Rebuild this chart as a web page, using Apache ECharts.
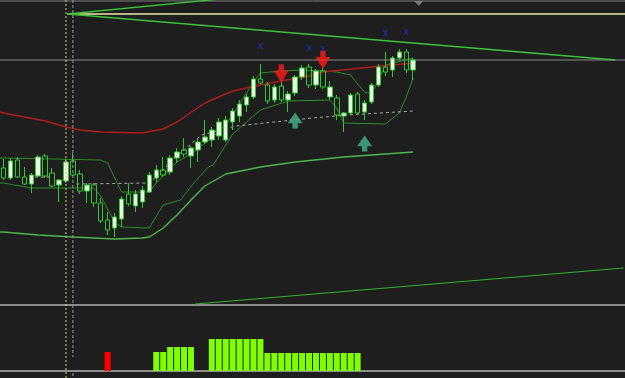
<!DOCTYPE html>
<html><head><meta charset="utf-8">
<script src="https://cdn.jsdelivr.net/npm/echarts/dist/echarts.min.js"></script>
<style>html,body{margin:0;padding:0;background:#1e1e1e;}#c{width:625px;height:378px;}</style>
</head><body><div id="c"></div><script>
// bar slots (60 bars + empty future slots on the right)
const barIndex = Array.from({length: 90}, (_, i) => String(i));

// OHLC (price units)
const candleOpen  = [152,142,160,143,136,144,164,147,135,139,159,146,129,135,117,100,92,101,126,114,118,128,142,150,148,162,170,164,170,178,180,184,180,198,204,215,223,241,235,220,234,220,227,243,253,235,249,223,222,204,207,226,208,218,235,253,250,262,268,250];
const candleClose = [142,159,143,136,145,163,144,134,140,158,145,129,135,117,99,90,103,121,116,126,130,145,150,145,162,168,166,172,178,183,190,198,200,209,216,223,241,237,219,233,220,226,243,252,235,249,233,233,205,207,225,207,217,235,253,248,262,268,250,260];
const candleLow   = [140,140,142,135,127,143,142,133,118,137,144,126,117,113,97,85,83,93,114,108,112,127,138,143,145,157,163,152,158,176,173,180,178,190,198,208,221,236,216,217,218,208,224,240,232,231,231,220,200,188,205,205,200,216,233,244,243,260,247,240];
const candleHigh  = [161,162,163,153,147,165,166,152,141,161,167,150,137,137,122,108,107,124,137,130,134,148,155,163,165,172,182,174,181,200,193,202,204,212,220,226,244,256,238,236,238,229,245,255,256,251,252,239,225,208,227,228,220,237,256,268,264,271,271,262];

// indicator lines: [bar index, value]
const redLine   = [[-1,209],[0,207],[3,203],[6,199],[9,193],[11,190],[14,188],[20,187],[23,191],[25,198],[29,217],[33,229],[37,235],[40,239],[44,244],[46,248],[53,253],[59,257]];
const upperChan = [[-1,162],[0,162],[14,160],[15,157],[17,128],[21,128],[22,137],[25,158],[27,166],[30,182],[32,195],[34,216],[36,238],[37,247],[40,249],[43,250],[46,249],[48,248],[50,245],[51,236],[52,228],[53,226],[54,240],[55,255],[59,262]];
const lowerChan = [[-1,137],[0,137],[4,132],[13,132],[14,124],[16,98],[17,93],[21,92],[21.5,98],[23,115],[25.5,120],[27.4,137],[29.5,153],[30.2,155],[33,186],[37,210],[41,219],[47,220],[48,212],[49,197],[55,196],[57,207],[58,223],[59,242]];
const slowLine  = [[-1,88],[0,88],[5,85],[10,83],[16,81],[20,82],[21,83],[23,92],[25,105],[27,120],[29,134],[32,146],[37,153],[42,158],[49,163],[59,168]];
const dashLineA = [[4.5,143],[6.6,143]];
const dashLineB = [[10.5,136],[21,137],[25,164],[28.5,185],[33.5,194],[44.5,202],[49.5,205],[59,209]];

// trend lines and levels
const trendA = [[9.2,306],[88.1,260]];
const trendB = [[9.2,306],[33,322.2]];
const trendC = [[27.6,16],[89.3,52]];
const levelTop = 319, levelMid = 260, levelYellow = 306, levelYellowStart = 9.2;

// signals
const fractalMarks = [[37,274],[44,272],[46,271],[55,287],[58,288]];
const sellArrows = [[40,246.5],[46,260]];
const buyArrows = [[42,199.5],[52,176.5]];
const shiftMark = [[59.8,316.5]];

// histogram
const histUp = [null,null,null,null,null,null,null,null,null,null,null,null,null,null,null,null,null,null,null,null,null,null,19,19,24,24,24,24,null,null,32,32,32,32,32,32,32,32,18,18,18,18,18,18,18,18,18,18,18,18,18,18,null,null,null,null,null,null,null,null];
const histDown = [null,null,null,null,null,null,null,null,null,null,null,null,null,null,null,19];

// vertical separators (bar index)
const vYellow = 9, vGray = 10;

const candleData = candleOpen.map((o, i) => [o, candleClose[i], candleLow[i], candleHigh[i]]);

function ln(data, color, width, extra) {
  return Object.assign({type: 'line', xAxisIndex: 1, yAxisIndex: 0, data: data, symbol: 'none', silent: true,
    lineStyle: {color: color, width: width}, z: 2}, extra || {});
}

const chart = echarts.init(document.getElementById('c'), null, {renderer: 'canvas'});
chart.setOption({
  animation: false,
  backgroundColor: '#1e1e1e',
  grid: [
    {left: 0, top: 0, width: 630, height: 305},
    {left: 0, top: 305, width: 630, height: 66},
    {left: 0, top: 0, width: 630, height: 378}
  ],
  xAxis: [
    {type: 'category', gridIndex: 0, data: barIndex, boundaryGap: true,
     axisLine: {show: true, lineStyle: {color: '#8c8c8c', width: 2}}, axisTick: {show: false}, axisLabel: {show: false}, splitLine: {show: false}},
    {type: 'value', gridIndex: 0, min: -0.5, max: 89.5, show: false},
    {type: 'category', gridIndex: 1, data: barIndex, boundaryGap: true,
     axisLine: {show: true, lineStyle: {color: '#8c8c8c', width: 2}}, axisTick: {show: false}, axisLabel: {show: false}, splitLine: {show: false}},
    {type: 'value', gridIndex: 2, min: -0.5, max: 89.5, show: false}
  ],
  yAxis: [
    {type: 'value', gridIndex: 0, min: 15, max: 320, show: false, splitLine: {show: false}},
    {type: 'value', gridIndex: 1, min: 0, max: 66, show: false, splitLine: {show: false}},
    {type: 'value', gridIndex: 2, min: 0, max: 378, inverse: true, show: false, splitLine: {show: false}}
  ],
  series: [
    ln([[-1, levelTop],[90, levelTop]], '#7c7c7c', 1),
    ln([[-1, levelMid],[90, levelMid]], '#8a8a8a', 1),
    ln([[levelYellowStart, levelYellow],[90, levelYellow]], '#eee8aa', 1.5),
    ln(trendA, '#3cc23c', 1.3),
    ln(trendB, '#3cc23c', 1.3),
    ln(trendC, '#33b033', 1.2),
    ln(slowLine, '#4fb54f', 1.4),
    ln(upperChan, '#2e8b2e', 1),
    ln(lowerChan, '#2e8b2e', 1),
    ln(redLine, '#b01c1c', 1.4),
    ln(dashLineA, '#a8a8a8', 1, {lineStyle: {color: '#a8a8a8', width: 1, type: [3, 3]}}),
    ln(dashLineB, '#a8a8a8', 1, {lineStyle: {color: '#a8a8a8', width: 1, type: [3, 3]}}),
    {
      type: 'candlestick', xAxisIndex: 0, yAxisIndex: 0, data: candleData, barWidth: 5, silent: true, z: 5,
      itemStyle: {color: '#e8fce4', color0: 'rgba(0,0,0,0)', borderColor: '#36c436', borderColor0: '#36c436', borderWidth: 1}
    },
    {type: 'scatter', xAxisIndex: 1, yAxisIndex: 0, data: fractalMarks, silent: true, z: 6,
     symbol: 'path://M0,0L3,0L5,3.5L7,0L10,0L6.5,5L10,10L7,10L5,6.5L3,10L0,10L3.5,5Z', symbolSize: [5, 6],
     itemStyle: {color: '#2a2ab4'}},
    {type: 'scatter', xAxisIndex: 1, yAxisIndex: 0, data: sellArrows, silent: true, z: 7,
     symbol: 'path://M4.5,0L9.5,0L9.5,6L14,6L7,18L0,6L4.5,6Z', symbolSize: [15, 18],
     itemStyle: {color: '#ff1a1a'}},
    {type: 'scatter', xAxisIndex: 1, yAxisIndex: 0, data: buyArrows, silent: true, z: 7,
     symbol: 'path://M7,0L14,10L9.5,10L9.5,15L4.5,15L4.5,10L0,10Z', symbolSize: [15, 16],
     itemStyle: {color: '#42b48a'}},
    {type: 'scatter', xAxisIndex: 1, yAxisIndex: 0, data: shiftMark, silent: true, z: 7,
     symbol: 'triangle', symbolRotate: 180, symbolSize: [9, 5], itemStyle: {color: '#8c8c8c'}},
    {type: 'bar', xAxisIndex: 2, yAxisIndex: 1, data: histUp, barWidth: 6, silent: true,
     itemStyle: {color: '#7fff00'}},
    {type: 'bar', xAxisIndex: 2, yAxisIndex: 1, data: histDown, barWidth: 6, barGap: '-100%', silent: true,
     itemStyle: {color: '#ff0000'}},
    {type: 'line', xAxisIndex: 3, yAxisIndex: 2, data: [[vYellow, 0],[vYellow, 378]], symbol: 'none', silent: true, z: 8,
     lineStyle: {color: '#d8cc6a', width: 1, type: [2, 2]}},
    {type: 'line', xAxisIndex: 3, yAxisIndex: 2, data: [[vGray, 0],[vGray, 357]], symbol: 'none', silent: true, z: 8,
     lineStyle: {color: '#9c9c9c', width: 1, type: [3, 2]}},
    {type: 'line', xAxisIndex: 3, yAxisIndex: 2, data: [[vGray, 373],[vGray, 378]], symbol: 'none', silent: true, z: 8,
     lineStyle: {color: '#9c9c9c', width: 1, type: [3, 2]}}
  ]
});
</script></body></html>
